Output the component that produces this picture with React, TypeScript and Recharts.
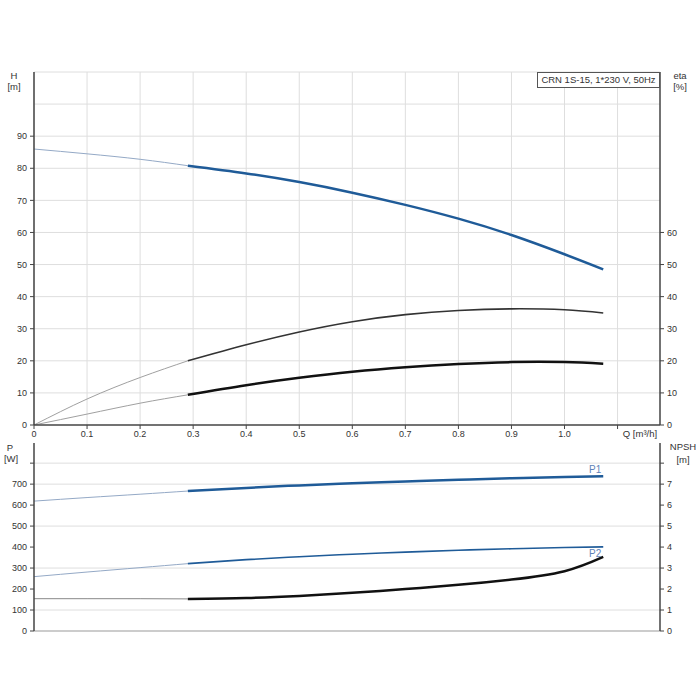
import React from "react";
import {
  CartesianGrid,
  Line,
  LineChart,
  ReferenceDot,
  XAxis,
  YAxis,
} from "recharts";

// flow axis
const qTicks = [0, 0.1, 0.2, 0.3, 0.4, 0.5, 0.6, 0.7, 0.8, 0.9, 1.0, 1.1];
const qThin = [0, 0.1, 0.2, 0.29];
const qMain = [0.29, 0.4, 0.5, 0.6, 0.7, 0.8, 0.9, 1.0, 1.073];

// head / efficiency (top panel)
const hThin = [86.0, 84.5, 82.8, 80.8];
const hMain = [80.8, 78.4, 75.7, 72.4, 68.6, 64.3, 59.2, 53.2, 48.5];
const etaUpperThin = [0, 8.1, 14.8, 20.0];
const etaUpperMain = [20.0, 25.0, 29.0, 32.2, 34.4, 35.7, 36.2, 35.9, 34.9];
const etaLowerThin = [0, 3.4, 6.8, 9.4];
const etaLowerMain = [9.4, 12.4, 14.7, 16.6, 18.0, 19.0, 19.6, 19.6, 19.1];
const hTicks = [0, 10, 20, 30, 40, 50, 60, 70, 80, 90];
const etaTicks = [0, 10, 20, 30, 40, 50, 60];
const hGrid = [10, 20, 30, 40, 50, 60, 70, 80, 90, 100, 110];

// power / npsh (bottom panel)
const p1Thin = [619, 636, 652, 667];
const p1Main = [667, 682, 694, 704, 713, 721, 728, 734, 738];
const p2Thin = [259, 281, 302, 321];
const p2Main = [321, 340, 354, 366, 376, 385, 392, 398, 401];
const npshThin = [1.54, 1.54, 1.54, 1.53];
const npshMain = [1.53, 1.57, 1.67, 1.82, 2.0, 2.2, 2.45, 2.85, 3.53];
const pTicks = [0, 100, 200, 300, 400, 500, 600, 700, 800];
const npshTicks = [0, 1, 2, 3, 4, 5, 6, 7, 8];

const toRows = (q: number[], key: string, vals: number[]) =>
  q.map((x, i) => ({ q: x, [key]: vals[i] }));

const font = '"Liberation Sans", Arial, sans-serif';
const tickStyle = { fontSize: 9, fill: "#333", fontFamily: font };
const axisDark = { stroke: "#444", strokeWidth: 1.5 };
const blue = "#1f5b98";
const blueThin = "#94a9c6";
const grayThin = "#a0a0a0";

const qFmt = (v: number) => (v > 1.05 ? "" : v === 0 ? "0" : v.toFixed(1));

const Txt = ({ x, y, children, align = "center" }: any) => (
  <div
    style={{
      position: "absolute",
      left: x,
      top: y,
      transform: align === "center" ? "translate(-50%, -50%)" : "translate(0, -50%)",
      fontFamily: font,
      fontSize: 9.5,
      color: "#333",
      whiteSpace: "nowrap",
      lineHeight: 1,
    }}
  >
    {children}
  </div>
);

const App = () => {
  return (
    <div
      style={{
        position: "absolute",
        left: 0,
        top: 0,
        width: 700,
        height: 700,
        background: "#fff",
      }}
    >
      <div style={{ position: "absolute", left: 0, top: 0 }}>
        <LineChart width={700} height={440} margin={{ top: 72, right: 0, left: 0, bottom: 0 }}>
          <CartesianGrid
            stroke="#dedede"
            xAxisId="q"
            yAxisId="h"
            verticalValues={qTicks}
            horizontalValues={hGrid}
          />
          <XAxis
            xAxisId="q"
            dataKey="q"
            type="number"
            domain={[0, 1.18]}
            ticks={qTicks}
            tickFormatter={qFmt}
            height={15}
            tickSize={4}
            tickMargin={2}
            tick={tickStyle}
            axisLine={axisDark}
            tickLine={{ stroke: "#444" }}
            allowDataOverflow
          />
          <YAxis
            yAxisId="h"
            domain={[0, 110]}
            ticks={hTicks}
            width={34}
            tickSize={4}
            tickMargin={3}
            tick={tickStyle}
            axisLine={axisDark}
            tickLine={{ stroke: "#444" }}
            allowDataOverflow
          />
          <YAxis
            yAxisId="eta"
            orientation="right"
            domain={[0, 110]}
            ticks={etaTicks}
            width={40}
            tickSize={4}
            tickMargin={3}
            tick={tickStyle}
            axisLine={axisDark}
            tickLine={{ stroke: "#444" }}
            allowDataOverflow
          />
          <Line xAxisId="q" yAxisId="h" data={toRows(qThin, "h", hThin)} dataKey="h" type="natural" stroke={blueThin} strokeWidth={1} dot={false} isAnimationActive={false} />
          <Line xAxisId="q" yAxisId="h" data={toRows(qMain, "h", hMain)} dataKey="h" type="natural" stroke={blue} strokeWidth={2.5} dot={false} isAnimationActive={false} />
          <Line xAxisId="q" yAxisId="eta" data={toRows(qThin, "e", etaUpperThin)} dataKey="e" type="natural" stroke={grayThin} strokeWidth={1} dot={false} isAnimationActive={false} />
          <Line xAxisId="q" yAxisId="eta" data={toRows(qMain, "e", etaUpperMain)} dataKey="e" type="natural" stroke="#333" strokeWidth={1.6} dot={false} isAnimationActive={false} />
          <Line xAxisId="q" yAxisId="eta" data={toRows(qThin, "e", etaLowerThin)} dataKey="e" type="natural" stroke={grayThin} strokeWidth={1} dot={false} isAnimationActive={false} />
          <Line xAxisId="q" yAxisId="eta" data={toRows(qMain, "e", etaLowerMain)} dataKey="e" type="natural" stroke="#111" strokeWidth={2.5} dot={false} isAnimationActive={false} />
        </LineChart>
      </div>

      <div style={{ position: "absolute", left: 0, top: 430 }}>
        <LineChart width={700} height={210} margin={{ top: 13, right: 0, left: 0, bottom: 0 }}>
          <CartesianGrid
            stroke="#dedede"
            xAxisId="q"
            yAxisId="p"
            verticalValues={qTicks}
            horizontalValues={pTicks}
          />
          <XAxis
            xAxisId="q"
            dataKey="q"
            type="number"
            domain={[0, 1.18]}
            ticks={qTicks}
            height={9}
            tick={false}
            tickLine={false}
            axisLine={{ stroke: "#bbb", strokeWidth: 1.5 }}
            allowDataOverflow
          />
          <XAxis
            xAxisId="top"
            orientation="top"
            dataKey="q"
            type="number"
            domain={[0, 1.18]}
            height={0}
            tick={false}
            tickLine={false}
            axisLine={{ stroke: "#666", strokeWidth: 1 }}
            allowDataOverflow
          />
          <YAxis
            yAxisId="p"
            domain={[0, 896]}
            ticks={pTicks}
            tickFormatter={(v: number) => (v > 750 ? "" : String(v))}
            width={34}
            tickSize={4}
            tickMargin={3}
            tick={tickStyle}
            axisLine={axisDark}
            tickLine={{ stroke: "#444" }}
            allowDataOverflow
          />
          <YAxis
            yAxisId="npsh"
            orientation="right"
            domain={[0, 8.96]}
            ticks={npshTicks}
            tickFormatter={(v: number) => (v > 7.5 ? "" : String(v))}
            width={40}
            tickSize={4}
            tickMargin={3}
            tick={tickStyle}
            axisLine={axisDark}
            tickLine={{ stroke: "#444" }}
            allowDataOverflow
          />
          <Line xAxisId="q" yAxisId="p" data={toRows(qThin, "p", p1Thin)} dataKey="p" type="natural" stroke={blueThin} strokeWidth={1} dot={false} isAnimationActive={false} />
          <Line xAxisId="q" yAxisId="p" data={toRows(qMain, "p", p1Main)} dataKey="p" type="natural" stroke={blue} strokeWidth={2.5} dot={false} isAnimationActive={false} />
          <Line xAxisId="q" yAxisId="p" data={toRows(qThin, "p", p2Thin)} dataKey="p" type="natural" stroke={blueThin} strokeWidth={1} dot={false} isAnimationActive={false} />
          <Line xAxisId="q" yAxisId="p" data={toRows(qMain, "p", p2Main)} dataKey="p" type="natural" stroke={blue} strokeWidth={1.6} dot={false} isAnimationActive={false} />
          <Line xAxisId="q" yAxisId="npsh" data={toRows(qThin, "n", npshThin)} dataKey="n" type="monotone" stroke="#888" strokeWidth={1} dot={false} isAnimationActive={false} />
          <Line xAxisId="q" yAxisId="npsh" data={toRows(qMain, "n", npshMain)} dataKey="n" type="natural" stroke="#111" strokeWidth={2.5} dot={false} isAnimationActive={false} />
          <ReferenceDot
            xAxisId="q"
            yAxisId="p"
            x={qMain[qMain.length - 1]}
            y={p1Main[p1Main.length - 1]}
            r={0}
            stroke="none"
            label={{ value: "P1", position: "top", offset: 3, dx: -8, fill: "#5f83b8", fontSize: 10, fontFamily: font }}
          />
          <ReferenceDot
            xAxisId="q"
            yAxisId="p"
            x={qMain[qMain.length - 1]}
            y={p2Main[p2Main.length - 1]}
            r={0}
            stroke="none"
            label={{ value: "P2", position: "bottom", offset: 3, dx: -8, fill: "#5f83b8", fontSize: 10, fontFamily: font }}
          />
        </LineChart>
      </div>

      <div
        style={{
          position: "absolute",
          left: 537,
          top: 72,
          width: 121,
          height: 14,
          border: "1px solid #555",
          background: "#fff",
          fontFamily: font,
          fontSize: 9.5,
          color: "#333",
          lineHeight: "14px",
          textAlign: "center",
          whiteSpace: "nowrap",
        }}
      >
        CRN 1S-15, 1*230 V, 50Hz
      </div>

      <Txt x={14} y={76}>H</Txt>
      <Txt x={14} y={87}>[m]</Txt>
      <Txt x={680} y={76}>eta</Txt>
      <Txt x={680} y={87}>[%]</Txt>
      <Txt x={640} y={434}>Q [m³/h]</Txt>
      <Txt x={10} y={448}>P</Txt>
      <Txt x={11} y={459}>[W]</Txt>
      <Txt x={683} y={447}>NPSH</Txt>
      <Txt x={683} y={460}>[m]</Txt>
    </div>
  );
};

export default App;
